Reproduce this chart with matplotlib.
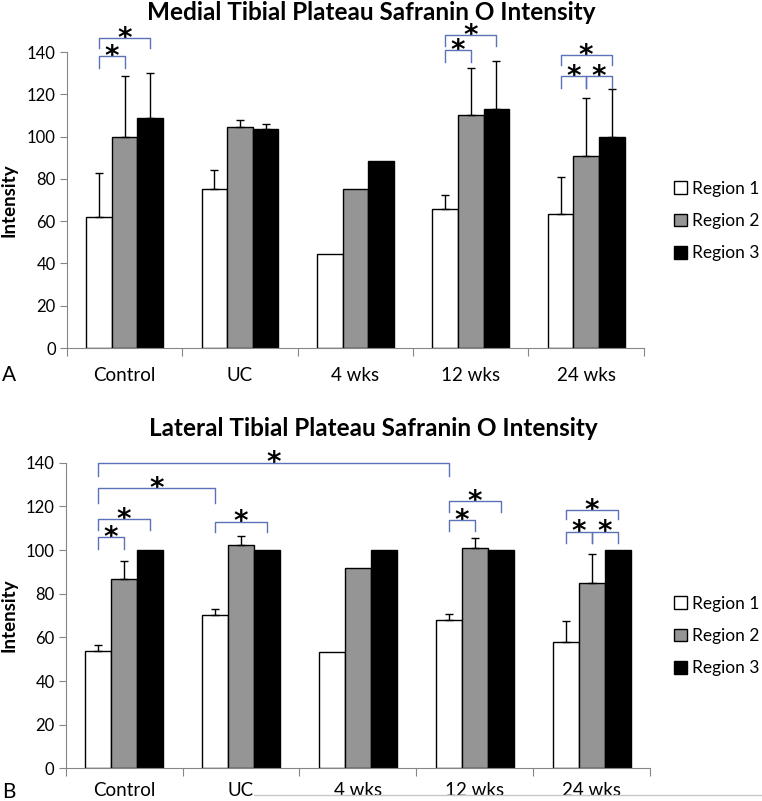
import matplotlib.pyplot as plt
import numpy as np
from matplotlib.lines import Line2D

plt.rcParams['font.family'] = ['Lato', 'DejaVu Sans']

categories = ["Control", "UC", "4 wks", "12 wks", "24 wks"]
regions = ["Region 1", "Region 2", "Region 3"]
colors = ["white", "#959595", "black"]

# panel A - medial
medial_r1 = [62.0, 75.4, 44.6, 66.0, 63.2]
medial_r2 = [99.6, 104.5, 75.0, 110.0, 90.7]
medial_r3 = [108.8, 103.7, 88.5, 112.9, 99.6]
medial_err1 = [20.8, 9.0, 0, 6.4, 17.5]
medial_err2 = [29.1, 3.2, 0, 22.6, 27.6]
medial_err3 = [21.2, 2.1, 0, 23.0, 22.9]

# panel B - lateral
lateral_r1 = [53.9, 70.1, 53.4, 68.0, 57.7]
lateral_r2 = [86.7, 102.4, 91.6, 101.0, 85.0]
lateral_r3 = [100, 100, 100, 100, 100]
lateral_err1 = [2.6, 2.7, 0, 2.6, 9.6]
lateral_err2 = [8.3, 3.9, 0, 4.6, 13.2]
lateral_err3 = [0, 0, 0, 0, 0]

# significance brackets: (group, region) start, (group, region) end, top, leg bottom
medial_brackets = [
    ((0, 0), (0, 1), 138.1, 132.5),
    ((0, 0), (0, 2), 146.6, 141.9),
    ((3, 0), (3, 1), 141.0, 135.3),
    ((3, 0), (3, 2), 148.0, 142.9),
    ((4, 0), (4, 1), 128.7, 123.0),
    ((4, 1), (4, 2), 128.7, 123.0),
    ((4, 0), (4, 2), 138.6, 133.9),
]
lateral_brackets = [
    ((0, 0), (0, 1), 105.8, 100.4),
    ((0, 0), (0, 2), 114.2, 109.2),
    ((0, 0), (1, 0), 128.3, 121.4),
    ((0, 0), (3, 0), 140.0, 134.0),
    ((1, 0), (1, 2), 113.0, 108.4),
    ((3, 0), (3, 1), 113.7, 108.7),
    ((3, 0), (3, 2), 122.4, 117.5),
    ((4, 0), (4, 1), 108.4, 103.3),
    ((4, 1), (4, 2), 108.4, 103.3),
    ((4, 0), (4, 2), 118.3, 114.2),
]

W = 0.222
offsets = [-W, 0, W]
axis_gray = "#868686"
bracket_col = "#5b72b8"


def draw_panel(ax, vals, errs, brackets, label_pad, legend_y, ylab_pad):
    x = np.arange(len(categories))
    for k in range(3):
        ax.bar(x + offsets[k], vals[k], W, color=colors[k], edgecolor="black",
               linewidth=1, label=regions[k], zorder=2)
        e = np.array(errs[k])
        m = e > 0
        if m.any():
            ax.errorbar((x + offsets[k])[m], np.array(vals[k])[m],
                        yerr=[np.zeros(m.sum()), e[m]], fmt="none", ecolor="black",
                        elinewidth=1, capsize=3, capthick=1, zorder=3)

    for (g1, r1), (g2, r2), top, leg in brackets:
        x1 = g1 + offsets[r1]
        x2 = g2 + offsets[r2]
        ax.plot([x1, x1, x2, x2], [leg, top, top, leg], color=bracket_col,
                lw=1, clip_on=False, zorder=4)
        ax.annotate("*", ((x1 + x2) / 2, top), xytext=(0, -10.5), textcoords="offset points",
                    ha="center", va="bottom", fontsize=20, fontweight="bold",
                    annotation_clip=False, family="DejaVu Sans")

    ax.set_xlim(-0.5, 4.5)
    ax.set_ylim(0, 140)
    ax.set_yticks(range(0, 141, 20))
    ax.set_xticks(np.arange(-0.5, 5, 1))
    ax.set_xticklabels([])
    ax.set_xticks(x, minor=True)
    ax.set_xticklabels(categories, minor=True, fontsize=13.5)
    ax.tick_params(axis="x", which="minor", length=0, pad=label_pad)
    ax.tick_params(axis="x", which="major", direction="out", length=6, color=axis_gray)
    ax.tick_params(axis="y", direction="out", length=5, color=axis_gray, labelsize=12, pad=3)
    for s in ["top", "right"]:
        ax.spines[s].set_visible(False)
    for s in ["left", "bottom"]:
        ax.spines[s].set_color(axis_gray)
    ax.set_ylabel("Intensity", fontsize=13.5, fontweight="bold", labelpad=ylab_pad)
    ax.legend(loc="center left", bbox_to_anchor=(0.864, legend_y),
              bbox_transform=fig.transFigure, frameon=False, fontsize=12.5,
              handlelength=0.75, handleheight=0.75, handletextpad=0.3, labelspacing=0.95)


fig = plt.figure(figsize=(7.62, 8.01), dpi=100)
axA = fig.add_axes([0.0879, 0.5655, 0.757, 0.3695])
axB = fig.add_axes([0.0862, 0.0408, 0.767, 0.3815])

draw_panel(axA, [medial_r1, medial_r2, medial_r3],
           [medial_err1, medial_err2, medial_err3], medial_brackets, 14, 1 - 221 / 801, 7)
draw_panel(axB, [lateral_r1, lateral_r2, lateral_r3],
           [lateral_err1, lateral_err2, lateral_err3], lateral_brackets, 10, 1 - 636 / 801, 6)

fig.text(371 / 762, 1 - 13 / 801, "Medial Tibial Plateau Safranin O Intensity",
         ha="center", va="center", fontsize=17.5, fontweight="bold")
fig.text(373 / 762, 1 - 429 / 801, "Lateral Tibial Plateau Safranin O Intensity",
         ha="center", va="center", fontsize=17.5, fontweight="bold")
fig.text(2 / 762, 1 - 375 / 801, "A", ha="left", va="center", fontsize=15)
fig.text(2 / 762, 1 - 792 / 801, "B", ha="left", va="center", fontsize=15)

fig.add_artist(Line2D([254 / 762, 1.0], [1 - 795 / 801] * 2, color="#c8c8c8", lw=1))

fig.savefig("out.png", dpi=100)
